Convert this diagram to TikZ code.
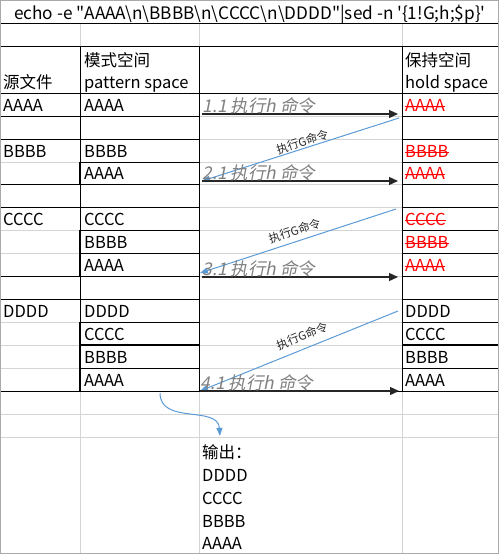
\documentclass[tikz,border=0pt]{standalone}
\usepackage{fontspec}
\setmainfont{Noto Sans CJK SC}
\newfontfamily\slantfont{Noto Sans CJK SC}[FakeSlant=0.2]
\usetikzlibrary{arrows.meta, positioning}
\definecolor{gridgray}{RGB}{212, 212, 212}
\definecolor{framegray}{RGB}{170, 170, 170}
\definecolor{excelblue}{RGB}{91, 155, 213}
\definecolor{labelgray}{RGB}{128, 128, 128}
\definecolor{strikered}{RGB}{255, 0, 0}
\tikzset{
  gridline/.style={line width=1pt, black},
  gridline_gray/.style={line width=1pt, gridgray},
  gridline_thick/.style={line width=2pt, black},
  cell/.style={anchor=base west, inner sep=0pt, font=\fontsize{16.5}{20}\selectfont},
  cell_red/.style={cell, text=strikered},
  strike/.style={line width=1.2pt, strikered},
  hlabel/.style={anchor=base west, inner sep=0pt, yshift=2pt, font=\slantfont\fontsize{17.5}{20}\selectfont, text=labelgray},
  glabel/.style={inner sep=1pt, font=\fontsize{11.5}{14}\selectfont, text=black!85},
  harrow/.style={-{Triangle[length=9pt, width=8pt]}, line width=1.3pt, black!85},
  garrow/.style={-{Triangle[length=8pt, width=6pt]}, line width=1pt, excelblue}
}

\begin{document}
\begin{tikzpicture}[x=1pt, y=-1pt]
    \useasboundingbox (0,0) rectangle (499,554);

    % --- GRID: GRAY LINES ---
    \foreach \y in {116,139,162,184,207,230,253,276,299,322,345,368}
        \draw[gridline_gray] (199,\y) -- (402,\y);
    \foreach \y in {162,230,253,322,345,368}
        \draw[gridline_gray] (0,\y) -- (80,\y);
    \foreach \y in {414,437}
        \draw[gridline_gray] (0,\y) -- (499,\y);
    \foreach \x in {80,199,402} {
        \draw[gridline_gray] (\x,23) -- (\x,46);
        \draw[gridline_gray] (\x,391) -- (\x,554);
    }

    % --- GRID: BLACK BORDERS ---
    \foreach \y in {23,46,93,391}
        \draw[gridline] (0,\y) -- (499,\y);
    \foreach \y in {116,139,184,207,276,299}
        \draw[gridline] (0,\y) -- (80,\y);
    \foreach \y in {116,139,162,184,207,230,253,276,299,322,368} {
        \draw[gridline] (80,\y) -- (199,\y);
        \draw[gridline] (402,\y) -- (499,\y);
    }
    \draw[gridline_thick] (80,345) -- (199,345);
    \draw[gridline_thick] (402,345) -- (499,345);
    \foreach \x in {80,199,402}
        \draw[gridline] (\x,46) -- (\x,391);
    \foreach \ya/\yb in {162/184,230/276,322/391}
        \draw[gridline_thick] (80,\ya) -- (80,\yb);
    \draw[framegray] (0.5,0.5) rectangle (498.5,553.5);

    % --- COMMAND ROW ---
    \node (cmd) at (250,19.5) [cell, anchor=base, font=\fontsize{17.2}{20}\selectfont] {echo -e \textquotedbl AAAA\textbackslash n\textbackslash BBBB\textbackslash n\textbackslash CCCC\textbackslash n\textbackslash DDDD\textquotedbl|sed -n \textquotesingle\{1!G;h;\$p\}\textquotesingle};

    % --- HEADER ---
    \node (src_head) at (3,88) [cell] {源文件};
    \node (pat_head) at (84,66) [cell] {模式空间};
    \node (pat_head_en) at (84,88) [cell] {pattern space};
    \node (hold_head) at (405,66) [cell] {保持空间};
    \node (hold_head_en) at (405,88) [cell] {hold space};

    % --- SOURCE FILE ---
    \foreach \n/\y/\txt in {a/111/AAAA, b/157/BBBB, c/225/CCCC, d/317/DDDD}
        \node (src_\n) at (3,\y) [cell] {\txt};

    % --- PATTERN SPACE ---
    \foreach \n/\y/\txt in {1a/111/AAAA, 2b/157/BBBB, 2a/179/AAAA, 3c/225/CCCC, 3b/248/BBBB, 3a/271/AAAA, 4d/317/DDDD, 4c/340/CCCC, 4b/363/BBBB, 4a/386/AAAA}
        \node (pat_\n) at (84,\y) [cell] {\txt};

    % --- HOLD SPACE (old copies struck out) ---
    \foreach \n/\y/\txt in {1a/111/AAAA, 2b/157/BBBB, 2a/179/AAAA, 3c/225/CCCC, 3b/248/BBBB, 3a/271/AAAA} {
        \node (hold_\n) at (405,\y) [cell_red] {\txt};
        \draw[strike] ([yshift=4.8pt]hold_\n.base west) -- ([yshift=4.8pt]hold_\n.base east);
    }
    \foreach \n/\y/\txt in {4d/317/DDDD, 4c/340/CCCC, 4b/363/BBBB, 4a/386/AAAA}
        \node (hold_\n) at (405,\y) [cell] {\txt};

    % --- h AND G COMMANDS ---
    \coordinate (h1_from) at (202,114);
    \coordinate (h1_to) at (398,114);
    \coordinate (g1_from) at (399,118);
    \coordinate (h2_from) at (202,181);
    \coordinate (h2_to) at (398,181);
    \coordinate (g2_from) at (396,209);
    \coordinate (g2_to) at (200,273);
    \coordinate (h3_from) at (202,277);
    \coordinate (h3_to) at (398,277);
    \coordinate (g3_from) at (398,311);
    \coordinate (h4_from) at (200,391);
    \coordinate (h4_to) at (399,391);

    \draw[harrow] (h1_from) -- (h1_to) node (h1_label) [pos=0, hlabel] {1.1 执行h 命令};
    \draw[garrow] (g1_from) -- node (g1_label) [pos=0.48, sloped, above, glabel] {执行G命令} (h2_from);
    \draw[harrow] (h2_from) -- (h2_to) node (h2_label) [pos=0, hlabel] {2.1 执行h 命令};
    \draw[garrow] (g2_from) -- node (g2_label) [sloped, above=4pt, glabel] {执行G命令} (g2_to);
    \draw[harrow] (h3_from) -- (h3_to) node (h3_label) [pos=0, hlabel] {3.1 执行h 命令};
    \draw[garrow] (g3_from) -- node (g3_label) [pos=0.46, sloped, above=6pt, glabel] {执行G命令} (h4_from);
    \draw[harrow] (h4_from) -- (h4_to) node (h4_label) [pos=0, hlabel] {4.1 执行h 命令};

    % --- OUTPUT ---
    \node (out_head) at (202,458) [cell] {输出：};
    \node (out_d) at (202,481) [cell] {DDDD};
    \node (out_c) at (202,504) [cell] {CCCC};
    \node (out_b) at (202,527) [cell] {BBBB};
    \node (out_a) at (202,549) [cell] {AAAA};
    \coordinate (out_from) at (160,393);
    \draw[garrow] (out_from) .. controls (160,425) and (218,405) .. ([xshift=-7pt, yshift=8pt]out_head.north);
\end{tikzpicture}
\end{document}
